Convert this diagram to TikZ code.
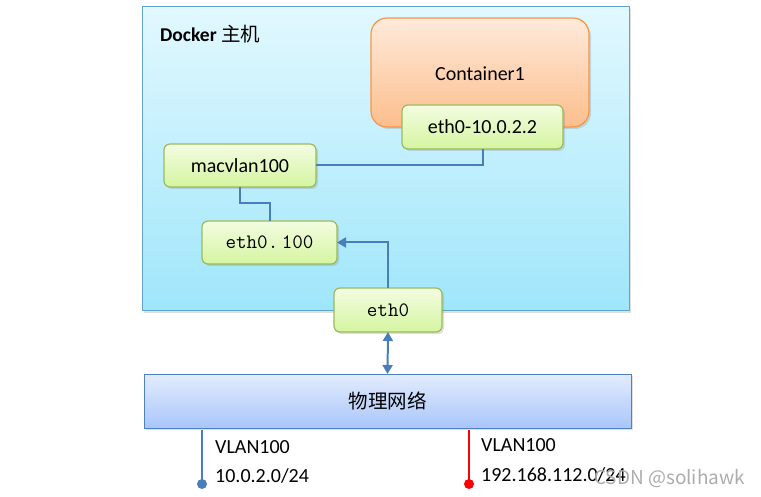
\documentclass[tikz,border=0pt]{standalone}
\usepackage{fontspec}
\setmainfont{Carlito}
\newfontfamily\cjk{Noto Sans CJK SC}
\usetikzlibrary{shadows,arrows.meta}
\definecolor{hostA}{HTML}{E2F8FE}
\definecolor{hostB}{HTML}{9FE6FB}
\definecolor{hostE}{HTML}{5FA3C6}
\definecolor{contA}{HTML}{FEEADB}
\definecolor{contB}{HTML}{FDBE8C}
\definecolor{contE}{HTML}{F79646}
\definecolor{grnA}{HTML}{F3FCE2}
\definecolor{grnB}{HTML}{D5F5A0}
\definecolor{grnE}{HTML}{9BBB59}
\definecolor{phyA}{HTML}{E3ECFD}
\definecolor{phyB}{HTML}{A9C6FA}
\definecolor{phyE}{HTML}{4F81BD}
\definecolor{lineC}{HTML}{4A7EBB}
\tikzset{
  base/.style={inner sep=0pt, outer sep=0pt, line width=1pt,
    drop shadow={shadow xshift=2pt, shadow yshift=-2pt, opacity=0.25}},
  hostbox/.style={base, draw=hostE, top color=hostA, bottom color=hostB},
  contbox/.style={base, draw=contE, line width=1.2pt, top color=contA, bottom color=contB, rounded corners=16pt},
  ifbox/.style={base, draw=grnE, line width=1.2pt, top color=grnA, bottom color=grnB, rounded corners=6pt,
    font=\fontsize{20}{24}\selectfont},
  monobox/.style={ifbox, font=\fontsize{20.5}{24}\selectfont\ttfamily},
  phybox/.style={base, draw=phyE, top color=phyA, bottom color=phyB},
  conn/.style={draw=lineC, line width=2pt},
  tip/.style={-{Triangle[length=9pt,width=10pt]}},
  lbl/.style={anchor=west, font=\fontsize{20}{24}\selectfont, inner sep=0pt},
}
\begin{document}
\begin{tikzpicture}[x=1pt,y=-1pt]
\useasboundingbox (0,0) rectangle (761,497);
\node[hostbox, minimum width=487, minimum height=304] (host) at (385.5,159) {};
\node[anchor=base west, inner sep=0pt, font=\fontsize{19.5}{23}\selectfont\bfseries] (hostlbl) at (160,42) {Docker {\cjk\mdseries 主机}};
\node[contbox, minimum width=218, minimum height=109] (cont) at (480,72.5) {};
\node[inner sep=0pt, font=\fontsize{20}{24}\selectfont] (contlbl) at (480,74) {Container1};
\node[ifbox, minimum width=161, minimum height=44] (eip) at (482.5,127) {eth0-10.0.2.2};
\node[ifbox, minimum width=152, minimum height=43] (mac) at (240,165.5) {macvlan100};
\node[monobox, minimum width=135, minimum height=43] (e100) at (269.5,242.5) {eth0.\,100};
\node[monobox, minimum width=108, minimum height=44] (e0) at (388,310) {eth0};
\node[phybox, minimum width=487, minimum height=54, font=\fontsize{19.5}{23}\selectfont\cjk] (phy) at (387.5,401) {物理网络};
\draw[conn] (eip.south) |- (mac.east);
\draw[conn] (mac.south) -- ++(0,16) -| (e100.north);
\draw[conn, tip] (e0.north) |- (e100.east);
\draw[conn, {Triangle[length=9pt,width=10pt]}-{Triangle[length=9pt,width=10pt]}] (e0.south) -- (phy.north);
\coordinate (v1t) at (202,430);
\coordinate (v1b) at (202,484);
\coordinate (v2t) at (469,430);
\coordinate (v2b) at (469,484);
\draw[line width=2.5pt, draw=lineC] (v1t) -- (v1b);
\fill[lineC] (v1b) circle (5);
\draw[line width=2.5pt, draw=red] (v2t) -- (v2b);
\fill[red] (v2b) circle (5);
\node[lbl] (l1a) at (215,447) {VLAN100};
\node[lbl] (l1b) at (215,476) {10.0.2.0/24};
\node[lbl] (l2a) at (481,445) {VLAN100};
\node[lbl] (l2b) at (481,475) {192.168.112.0/24};
\node[anchor=west, inner sep=0pt, text=gray!65, font=\fontsize{19}{22}\selectfont\cjk] (wm) at (594,479) {CSDN @solihawk};
\end{tikzpicture}
\end{document}
